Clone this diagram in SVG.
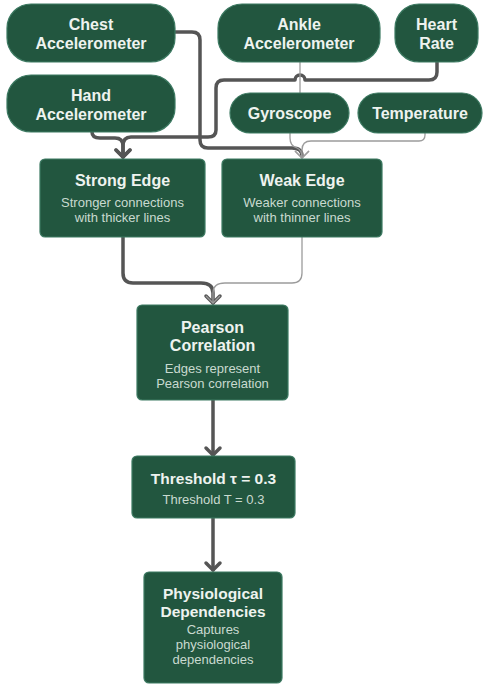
<svg xmlns="http://www.w3.org/2000/svg" width="490" height="687" viewBox="0 0 490 687">
<defs>
<style>
.n{fill:#22563f;stroke:#3d7a62;stroke-width:1.2}
.t{font-family:"Liberation Sans",Arial,sans-serif;font-weight:700;fill:#eef3ef;text-anchor:middle}
.tp{font-size:16px}
.tb{font-size:16px}
.s{font-family:"Liberation Sans",Arial,sans-serif;font-size:13px;fill:#c9dad0;text-anchor:middle}
.cs{fill:none;stroke:#555;stroke-width:3.5;stroke-linejoin:round;stroke-linecap:round}
.cw{fill:none;stroke:#9c9c9c;stroke-width:1.3;stroke-linejoin:round}
</style>
<marker id="aS" markerUnits="userSpaceOnUse" markerWidth="20" markerHeight="20" refX="10" refY="10" orient="auto" viewBox="0 0 20 20">
<path d="M3,3 L10,10 L3,17" fill="none" stroke="#555" stroke-width="3.5" stroke-linecap="round" stroke-linejoin="round"/>
</marker>
<marker id="aW" markerUnits="userSpaceOnUse" markerWidth="20" markerHeight="20" refX="10" refY="10" orient="auto" viewBox="0 0 20 20">
<path d="M3,3 L10,10 L3,17" fill="none" stroke="#9c9c9c" stroke-width="1.3"/>
</marker>
</defs>
<rect width="490" height="687" fill="#ffffff"/>
<g id="connectors">
<path class="cs" d="M92,132 Q92,138 100,138 H115 Q123,138 123,146 V157" marker-end="url(#aS)"/>
<path class="cs" d="M437,62 V72 Q437,80 429,80 H305 A5,5 0 0 0 295,80 H224 Q216,80 216,88 V130 Q216,137 208,137 H131 Q123,137 123,146 V157" marker-end="url(#aS)"/>
<path class="cs" d="M175,32 H192 Q200,32 200,40 V140 Q200,148 208,148 H292 Q302,148 302,156"/>
<path class="cw" d="M300,62 V93"/>
<path class="cw" d="M290,133 V138 Q290,146 297,148 Q302,150 302,158" marker-end="url(#aW)"/>
<path class="cw" d="M425,133 V135 Q425,141 419,141 H311 Q302,141 302,150 V158" marker-end="url(#aW)"/>
<path class="cs" d="M123,237 V273 Q123,283 133,283 H201 Q213,283 213,293 V303" marker-end="url(#aS)"/>
<path class="cw" d="M302,237 V273 Q302,283 292,283 H225 Q213,283 213,293 V303" marker-end="url(#aW)"/>
<path class="cs" d="M213,400 V455" marker-end="url(#aS)"/>
<path class="cs" d="M213,518 V570" marker-end="url(#aS)"/>
</g>
<g id="chest">
<rect class="n" x="7" y="4" width="168" height="58" rx="24"/>
<text class="t tp" x="91" y="30">Chest</text>
<text class="t tp" x="91" y="49">Accelerometer</text>
</g>
<g id="ankle">
<rect class="n" x="218" y="4" width="162" height="58" rx="24"/>
<text class="t tp" x="299" y="30">Ankle</text>
<text class="t tp" x="299" y="49">Accelerometer</text>
</g>
<g id="heart">
<rect class="n" x="395" y="4" width="83" height="58" rx="24"/>
<text class="t tp" x="436.5" y="30">Heart</text>
<text class="t tp" x="436.5" y="49">Rate</text>
</g>
<g id="hand">
<rect class="n" x="7" y="75" width="168" height="57" rx="24"/>
<text class="t tp" x="91" y="101">Hand</text>
<text class="t tp" x="91" y="120">Accelerometer</text>
</g>
<g id="gyroscope">
<rect class="n" x="230" y="93" width="119" height="40" rx="20"/>
<text class="t tp" x="289.5" y="119">Gyroscope</text>
</g>
<g id="temperature">
<rect class="n" x="358" y="93" width="124" height="40" rx="20"/>
<text class="t tp" x="420" y="119">Temperature</text>
</g>
<g id="strong">
<rect class="n" x="40" y="159" width="165" height="78" rx="5"/>
<text class="t tb" x="122.5" y="186">Strong Edge</text>
<text class="s" x="122.5" y="207">Stronger connections</text>
<text class="s" x="122.5" y="222">with thicker lines</text>
</g>
<g id="weak">
<rect class="n" x="222" y="159" width="160" height="78" rx="5"/>
<text class="t tb" x="302" y="186">Weak Edge</text>
<text class="s" x="302" y="207">Weaker connections</text>
<text class="s" x="302" y="222">with thinner lines</text>
</g>
<g id="pearson">
<rect class="n" x="137" y="305" width="151" height="95" rx="5"/>
<text class="t tb" x="212.5" y="333">Pearson</text>
<text class="t tb" x="212.5" y="351">Correlation</text>
<text class="s" x="212.5" y="373">Edges represent</text>
<text class="s" x="212.5" y="388">Pearson correlation</text>
</g>
<g id="threshold">
<rect class="n" x="132" y="456" width="163" height="62" rx="5"/>
<text class="t" style="font-size:15.5px" x="213.5" y="484">Threshold τ = 0.3</text>
<text class="s" x="213.5" y="504">Threshold T = 0.3</text>
</g>
<g id="physio">
<rect class="n" x="144" y="572" width="138" height="111" rx="5"/>
<text class="t" style="font-size:15.5px" x="213" y="599">Physiological</text>
<text class="t" style="font-size:15.5px" x="213" y="617">Dependencies</text>
<text class="s" x="213" y="634">Captures</text>
<text class="s" x="213" y="649">physiological</text>
<text class="s" x="213" y="664">dependencies</text>
</g>
</svg>
